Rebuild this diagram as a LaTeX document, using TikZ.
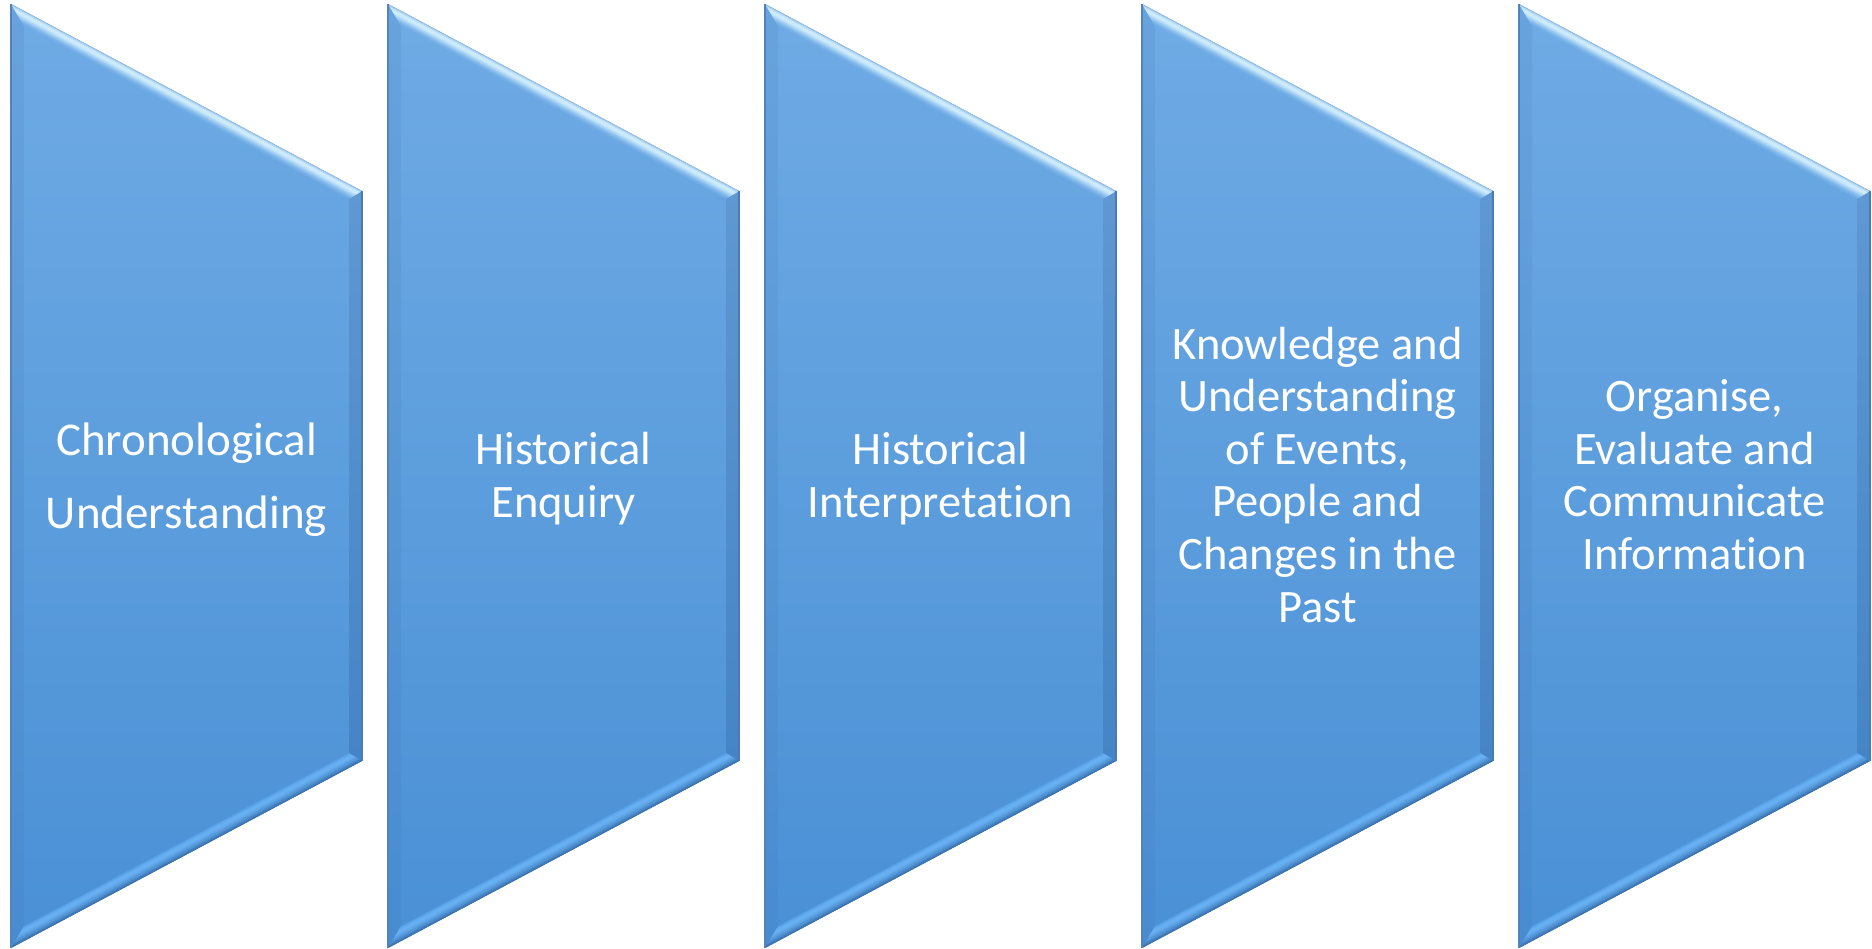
\documentclass[tikz,border=0pt]{standalone}
\usepackage{fontspec}
\setmainfont{Carlito}[Ligatures=NoCommon]
\definecolor{faceTop}{HTML}{6FABE5}
\definecolor{faceBot}{HTML}{4A90D5}
\definecolor{leftTop}{HTML}{68A3DD}
\definecolor{leftBot}{HTML}{488BD0}
\definecolor{rightTop}{HTML}{5F98D2}
\definecolor{rightBot}{HTML}{4584C6}
\definecolor{edgeL}{HTML}{5383BA}
\definecolor{edgeR}{HTML}{4A7CB4}
\tikzset{
  boxtext/.style={text=white, align=center, inner sep=0pt, anchor=base},
  facetline/.style={line width=1.6pt},
}
\newcommand\chevbox[6]{%
 \begin{scope}[shift={(#1,0)}]
  \coordinate (#2A) at (0,4);
  \coordinate (#2B) at (351,191);
  \coordinate (#2C) at (351,761);
  \coordinate (#2D) at (0,948);
  \coordinate (#2a) at (13,25.7);
  \coordinate (#2b) at (338,198.8);
  \coordinate (#2c) at (338,753.2);
  \coordinate (#2d) at (13,926.3);
  \shade[top color=faceTop,bottom color=faceBot] (#2A)--(#2B)--(#2C)--(#2D)--cycle;
  \shade[top color=leftTop,bottom color=leftBot] (#2A)--(#2a)--(#2d)--(#2D)--cycle;
  \shade[top color=rightTop,bottom color=rightBot] (#2B)--(#2C)--(#2c)--(#2b)--cycle;
  \begin{scope}
   \clip (#2A)--(#2B)--(#2b)--(#2a)--cycle;
   \foreach \d/\c in {0/7EA7D0,1/9CC6EC,2/B8DCF7,3/C8E8FB,4/D0ECFC,5/CDEBFB,6/C4E5FA,7/B6DDF8,8/A7D2F5,9/98C9F1,10/8ABFEE,11/7FB7EA,12/76B0E7,13/70ACE5}{
     \definecolor{tmpc}{HTML}{\c}
     \draw[facetline,tmpc] (-5,{4+1.133*\d-2.66}) -- (356,{191+1.133*\d+2.66});
   }
  \end{scope}
  \begin{scope}
   \clip (#2C)--(#2D)--(#2d)--(#2c)--cycle;
   \foreach \d/\c in {0/386BA3,1/3D74B0,2/437EBC,3/4988C8,4/5093D3,5/5699DB,6/5CA0E2,7/61A7E9,8/65ACEE,9/68B0F2,10/68B0F3,11/65ADF1,12/5FA7EC,13/58A0E6}{
     \definecolor{tmpc}{HTML}{\c}
     \draw[facetline,tmpc] (-5,{948-1.133*\d+2.66}) -- (356,{761-1.133*\d-2.66});
   }
  \end{scope}
  \draw[edgeL,line width=1.2pt] (#2D)--(#2A);
  \draw[edgeR,line width=1.2pt] (#2B)--(#2C);
  \node[boxtext,font=\fontsize{#3}{#4}\selectfont] (#2t) at (175.5,#5) {#6};
 \end{scope}
}
\begin{document}
\begin{tikzpicture}[x=1pt,y=-1pt]
\useasboundingbox[fill=white] (0,0) rectangle (1872,949);
\chevbox{11}{s1}{47}{73}{528}{Chronological\\Understanding}
\chevbox{388}{s2}{46.5}{53}{517}{Historical\\Enquiry}
\chevbox{765}{s3}{46.5}{53}{517}{Historical\\Interpretation}
\chevbox{1142}{s4}{46.5}{52.6}{622}{Knowledge and\\Understanding\\of Events,\\People and\\Changes in the\\Past}
\chevbox{1519}{s5}{46.5}{52.4}{569}{Organise,\\Evaluate and\\Communicate\\Information}
\end{tikzpicture}
\end{document}
